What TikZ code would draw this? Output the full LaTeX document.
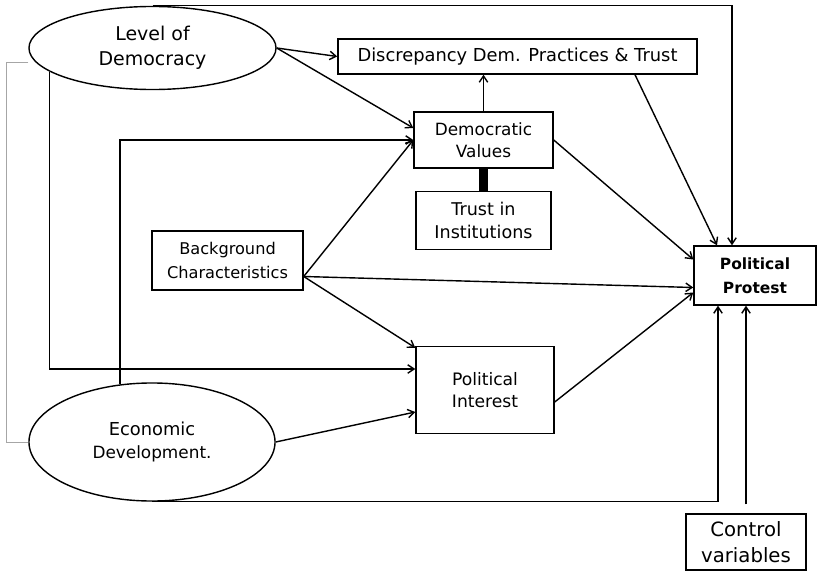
\documentclass[tikz,border=0pt]{standalone}
\usepackage{fontspec}
\setmainfont{DejaVu Sans}
\usetikzlibrary{arrows.meta, positioning, calc, shapes.geometric}

\begin{document}
\begin{tikzpicture}[x=0.025cm, y=-0.025cm, >={Straight Barb[length=4.5pt,width=6pt]}, line width=1pt,
    every node/.style={font=\fontsize{12}{16}\selectfont, align=center, inner sep=0pt},
    box/.style={draw, rectangle, fill=white},
    latent/.style={draw, ellipse, fill=white}]
    \useasboundingbox (0,0) rectangle (817,572);

    % Nodes
    \node[latent, minimum width=6.175cm, minimum height=2.075cm, font=\fontsize{13.5}{17.5}\selectfont] (LD) at (152.5,48) {Level of\\Democracy};
    \node[latent, minimum width=6.15cm, minimum height=2.95cm] (ED) at (152,442) {{\fontsize{12.7}{18}\selectfont Economic}\\{\fontsize{12}{18}\selectfont Development.}};
    \node[box, minimum width=8.975cm, minimum height=0.875cm, font=\fontsize{12.7}{16}\selectfont] (DP) at (517.5,56.5) {Discrepancy Dem. Practices \& Trust};
    \node[box, minimum width=3.475cm, minimum height=1.4cm] (DV) at (483.5,140) {Democratic\\Values};
    \node[box, minimum width=3.375cm, minimum height=1.45cm, below=0.55cm of DV, font=\fontsize{12.5}{17}\selectfont] (TI) {Trust in\\Institutions};
    \node[box, minimum width=3.775cm, minimum height=1.475cm, font=\fontsize{11.5}{17.5}\selectfont] (BC) at (227.5,260.5) {Background\\Characteristics};
    \node[box, minimum width=3.05cm, minimum height=1.475cm, font=\fontsize{11}{17}\selectfont\bfseries] (PP) at (755,275.5) {Political\\Protest};
    \node[box, minimum width=3.45cm, minimum height=2.175cm] (PI) at (485,390) {{\fontsize{12.2}{18}\selectfont Political}\\{\fontsize{12.2}{18}\selectfont Interest}};
    \node[box, minimum width=3cm, minimum height=1.4cm, font=\fontsize{14}{18.5}\selectfont] (CV) at (746,542) {Control\\variables};
    \coordinate (bcout) at ($(BC.east)+(0,16)$);

    % Paths from level of democracy
    \draw[->] (LD.north) -| ($(PP.north)+(-23,0)$);
    \draw[->] (LD.east) -- (DP.west);
    \draw[->] (LD.east) -- ($(DV.west)+(0,-12)$);
    \draw[->] (LD.193) |- ($(PI.west)+(0,-21)$);

    % Paths from economic development
    \draw[->] (ED.119) |- (DV.west);
    \draw[->] (ED.east) -- ($(PI.west)+(0,22)$);
    \draw[->] (ED.south) -| ($(PP.south)+(-37,0)$);

    % Background characteristics
    \draw[->] (bcout) -- (DV.west);
    \draw[->] (bcout) -- ($(PP.west)+(0,12)$);
    \draw[->] (bcout) -- ($(PI.north west)+(0,2)$);

    % Mediators to protest
    \draw[->] (DV.north) -- (DV.north |- DP.south);
    \draw[->] (DV.east) -- ($(PP.west)+(0,-16)$);
    \draw[->] ($(DP.south)+(117.5,0)$) -- ($(PP.north)+(-38,0)$);
    \draw[->] ($(PI.east)+(0,12)$) -- ($(PP.west)+(0,17)$);
    \draw[->, shorten <=6.4pt] (CV.north) -- (CV.north |- PP.south);

    % Trust linked to values
    \draw[line width=6.4pt] (DV.south) -- (TI.north);

    % Correlation between contexts
    \draw[gray!70, line width=0.7pt] ($(LD.west)+(0,14)$) -- ++(-22,0) |- (ED.west);
\end{tikzpicture}
\end{document}
